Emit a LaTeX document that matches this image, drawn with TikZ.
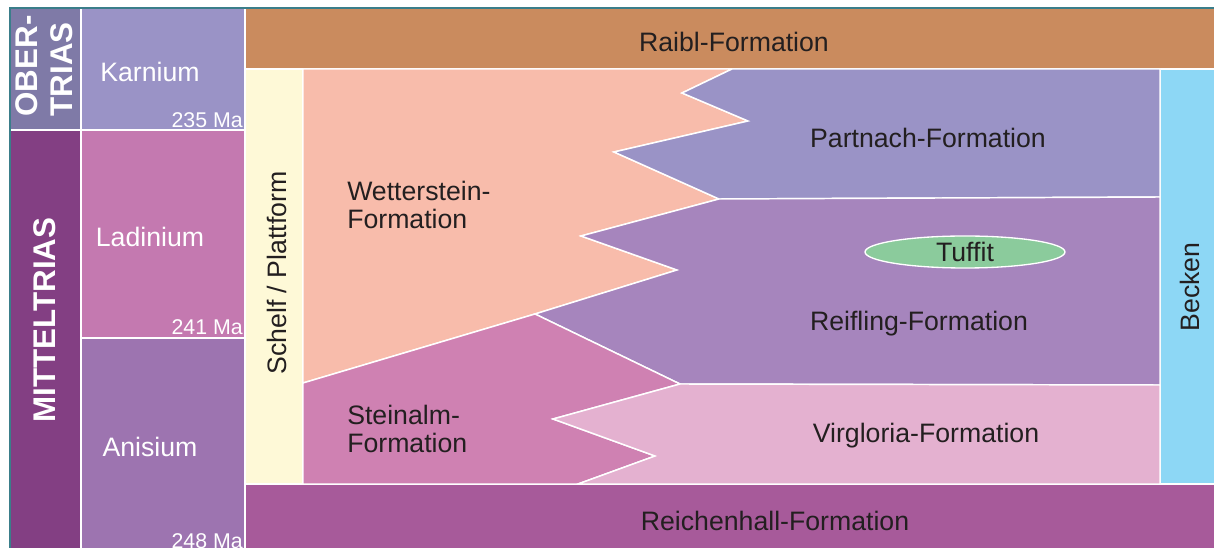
\documentclass[tikz,border=0pt]{standalone}
\usepackage{fontspec}
\setmainfont{Liberation Sans}
\usetikzlibrary{shapes.geometric}
\definecolor{frame}{HTML}{3A7E8A}
\definecolor{obertrias}{HTML}{7F7AA7}
\definecolor{karnium}{HTML}{9A93C6}
\definecolor{mittel}{HTML}{833F83}
\definecolor{ladinium}{HTML}{C479B0}
\definecolor{anisium}{HTML}{9D74B0}
\definecolor{raibl}{HTML}{CA8B5E}
\definecolor{schelf}{HTML}{FEF9D7}
\definecolor{wetter}{HTML}{F8BCAB}
\definecolor{partnach}{HTML}{9A93C6}
\definecolor{reifling}{HTML}{A685BD}
\definecolor{steinalm}{HTML}{CF81B2}
\definecolor{virgloria}{HTML}{E4B1D0}
\definecolor{becken}{HTML}{8DD7F5}
\definecolor{reichen}{HTML}{A75A9A}
\definecolor{tuffit}{HTML}{8BCB9C}
\definecolor{txt}{HTML}{231F20}
\begin{document}
\begin{tikzpicture}[x=0.75pt,y=-0.75pt,
  sep/.style={draw=white,line width=1.1pt,line join=miter},
  lbl/.style={font=\fontsize{20}{21}\selectfont,text=txt,inner sep=0pt},
  wlbl/.style={font=\fontsize{20}{21}\selectfont,text=white,inner sep=0pt},
  ma/.style={font=\fontsize{16}{18}\selectfont,text=white,inner sep=0pt,anchor=base east},
  era/.style={font=\fontsize{23.5}{26}\selectfont\bfseries,text=white,inner sep=0pt,rotate=90,align=left}]
\useasboundingbox (0,0) rectangle (1214,548);
\clip (0,0) rectangle (1214,548);
% time columns
\fill[obertrias] (10,8) rectangle (81,130);
\fill[mittel] (10,130) rectangle (81,548);
\draw[sep] (10,130) -- (81,130);
\filldraw[fill=karnium,sep] (81,8) rectangle (245,130);
\filldraw[fill=ladinium,sep] (81,130) rectangle (245,338);
\filldraw[fill=anisium,sep] (81,338) rectangle (245,560);
% facies frame
\filldraw[fill=raibl,sep] (245,8) rectangle (1220,69);
\filldraw[fill=schelf,sep] (245,69) rectangle (303,484);
\filldraw[fill=becken,sep] (1160,69) rectangle (1220,484);
\filldraw[fill=reichen,sep] (245,484) rectangle (1220,560);
% formations
\filldraw[fill=wetter,sep] (303,69) -- (732,69) -- (682,93) -- (748,121) -- (614,152) -- (719,199) -- (581,236) -- (677,270) -- (535,314) -- (303,383) -- cycle;
\filldraw[fill=partnach,sep] (732,69) -- (1160,69) -- (1160,197) -- (719,199) -- (614,152) -- (748,121) -- (682,93) -- cycle;
\filldraw[fill=reifling,sep] (719,199) -- (1160,197) -- (1160,385) -- (680,384) -- (535,314) -- (677,270) -- (581,236) -- cycle;
\filldraw[fill=steinalm,sep] (303,383) -- (535,314) -- (680,384) -- (553,419) -- (655,456) -- (578,484) -- (303,484) -- cycle;
\filldraw[fill=virgloria,sep] (680,384) -- (1160,385) -- (1160,484) -- (578,484) -- (655,456) -- (553,419) -- cycle;
% outer frame
\draw[frame,line width=1.5pt] (10,560) -- (10,8) -- (1220,8);
% tuffit
\node[ellipse,draw=white,line width=1pt,fill=tuffit,minimum width=150pt,minimum height=24pt,inner sep=0pt,font=\fontsize{20}{21}\selectfont,text=txt] (tuffit) at (965,252) {Tuffit};
% era labels
\node[era] (ober) at (44,66) {OBER-\\TRIAS};
\node[era] (mitteltrias) at (45,320) {MITTELTRIAS};
% stage labels
\node[wlbl] (karnium) at (150,72) {Karnium};
\node[wlbl] (ladinium) at (150,237) {Ladinium};
\node[wlbl] (anisium) at (150,447) {Anisium};
\node[ma] (ma235) at (243,128) {235 Ma};
\node[ma] (ma241) at (243,335) {241 Ma};
\node[ma] (ma248) at (243,549) {248 Ma};
% facies labels
\node[lbl] (raibltxt) at (734,42) {Raibl-Formation};
\node[lbl,rotate=90] (schelftxt) at (277,273) {Schelf / Plattform};
\node[lbl,rotate=90] (beckentxt) at (1190,287) {Becken};
\node[lbl,anchor=west,align=left] (wettertxt) at (347,205) {Wetterstein-\\Formation};
\node[lbl,anchor=west,align=left] (steintxt) at (347,429) {Steinalm-\\Formation};
\node[lbl] (partnachtxt) at (928,138) {Partnach-Formation};
\node[lbl] (reiflingtxt) at (919,324) {Reifling-Formation};
\node[lbl] (virgtxt) at (926,436) {Virgloria-Formation};
\node[lbl] (reichtxt) at (775,521) {Reichenhall-Formation};
\end{tikzpicture}
\end{document}
